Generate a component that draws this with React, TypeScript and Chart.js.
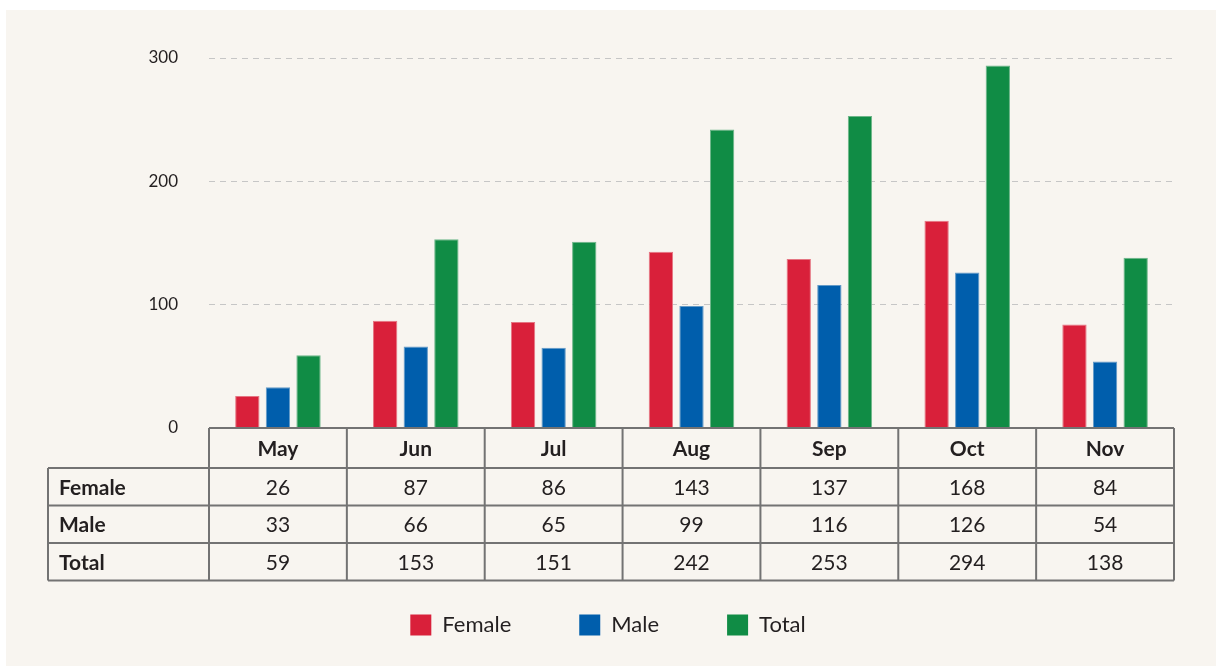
import React, { useEffect, useRef } from "react";
import { Chart, registerables } from "chart.js";

Chart.register(...registerables);

const months = ["May", "Jun", "Jul", "Aug", "Sep", "Oct", "Nov"];
const female = [26, 87, 86, 143, 137, 168, 84];
const male = [33, 66, 65, 99, 116, 126, 54];
const total = [59, 153, 151, 242, 253, 294, 138];
const seriesNames = ["Female", "Male", "Total"];
const yTickValues = [0, 100, 200, 300];

const FONT = "Lato, 'Noto Sans', sans-serif";
const TEXT = "#231f20";
const fills = ["#d9203a", "#005eac", "#108c45"];
const edges = ["#e57582", "#639ac7", "#6db689"];

export default function App() {
  const ref = useRef<HTMLCanvasElement | null>(null);

  useEffect(() => {
    if (!ref.current) return;
    const seriesValues = [female, male, total];

    const tablePlugin = {
      id: "dataTable",
      afterDraw(chart: any) {
        const { ctx, chartArea, scales } = chart;
        const xs = scales.x;
        const n = months.length;
        const colW = (chartArea.right - chartArea.left) / n;
        const top = chartArea.bottom;
        const headH = 40;
        const rowH = 37.5;
        const labelLeft = 48;
        const bottom = top + headH + rowH * seriesNames.length;
        ctx.save();
        ctx.strokeStyle = "#737373";
        ctx.lineWidth = 2;
        ctx.beginPath();
        // horizontal lines
        ctx.moveTo(chartArea.left, top);
        ctx.lineTo(chartArea.right, top);
        for (let r = 0; r <= seriesNames.length; r++) {
          const y = top + headH + r * rowH;
          ctx.moveTo(labelLeft, y);
          ctx.lineTo(chartArea.right, y);
        }
        // vertical lines
        ctx.moveTo(labelLeft, top + headH);
        ctx.lineTo(labelLeft, bottom);
        for (let k = 0; k <= n; k++) {
          const x = chartArea.left + k * colW;
          ctx.moveTo(x, top);
          ctx.lineTo(x, bottom);
        }
        ctx.stroke();

        ctx.fillStyle = TEXT;
        ctx.textBaseline = "middle";
        ctx.textAlign = "center";
        ctx.font = `bold 21px ${FONT}`;
        months.forEach((m, i) => {
          ctx.fillText(m, xs.getPixelForValue(i), top + headH / 2 + 1);
        });
        seriesNames.forEach((name, r) => {
          const yc = top + headH + r * rowH + rowH / 2 + 1;
          ctx.textAlign = "left";
          ctx.font = `bold 21px ${FONT}`;
          ctx.fillText(name, labelLeft + 11, yc);
          ctx.textAlign = "center";
          ctx.font = `21px ${FONT}`;
          seriesValues[r].forEach((v, i) => {
            ctx.fillText(String(v), xs.getPixelForValue(i), yc);
          });
        });
        ctx.restore();
      },
    };

    const chart = new Chart(ref.current, {
      type: "bar",
      data: {
        labels: months,
        datasets: seriesNames.map((name, i) => ({
          label: name,
          data: seriesValues[i],
          backgroundColor: fills[i],
          borderColor: edges[i],
          borderWidth: 1,
          borderSkipped: "start",
          categoryPercentage: 0.666,
          barPercentage: 0.795,
        })),
      },
      options: {
        responsive: false,
        animation: false,
        maintainAspectRatio: false,
        layout: { padding: { top: 58, left: 42, right: 42, bottom: 20 } },
        plugins: {
          tooltip: { enabled: false },
          legend: {
            position: "bottom",
            labels: {
              boxWidth: 21,
              boxHeight: 21,
              padding: 68,
              color: TEXT,
              font: { family: FONT, size: 22 },
              generateLabels: (c: any) =>
                c.data.datasets.map((ds: any, i: number) => ({
                  text: ds.label,
                  fillStyle: ds.backgroundColor,
                  strokeStyle: ds.backgroundColor,
                  lineWidth: 0,
                  hidden: false,
                  datasetIndex: i,
                  fontColor: TEXT,
                })),
            },
          },
        },
        scales: {
          x: {
            ticks: { display: false },
            grid: { display: false },
            border: { display: false },
            afterFit: (s: any) => {
              s.height = 118;
            },
          },
          y: {
            min: 0,
            max: 300,
            afterBuildTicks: (s: any) => {
              s.ticks = yTickValues.map((v) => ({ value: v }));
            },
            ticks: {
              padding: 31,
              color: TEXT,
              font: { family: FONT, size: 17 },
            },
            grid: { color: "#c6c6c6", lineWidth: 1, drawTicks: false },
            border: { display: false, dash: [6, 5] },
            afterFit: (s: any) => {
              s.width = 167;
            },
          },
        },
      },
      plugins: [tablePlugin],
    } as any);

    return () => chart.destroy();
  }, []);

  return (
    <div
      style={{
        position: "absolute",
        left: 0,
        top: 0,
        width: 1216,
        height: 666,
        background: "#ffffff",
        overflow: "hidden",
      }}
    >
      <div
        style={{
          position: "absolute",
          left: 6,
          top: 10,
          right: 0,
          bottom: 0,
          background: "#f8f5f0",
        }}
      />
      <canvas
        ref={ref}
        width={1216}
        height={666}
        style={{ position: "absolute", left: 0, top: 0, width: 1216, height: 666 }}
      />
    </div>
  );
}
